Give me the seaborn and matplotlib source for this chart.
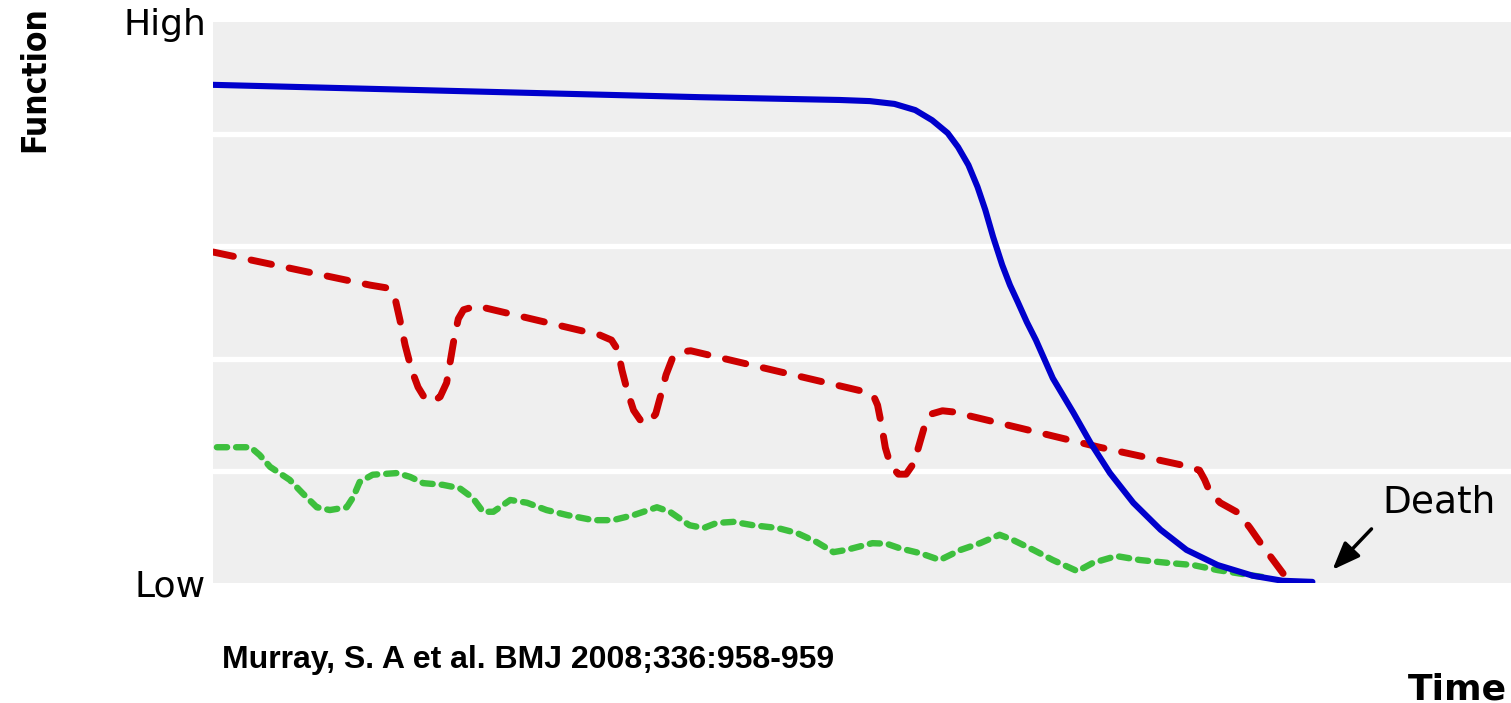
import matplotlib
matplotlib.use("Agg")
import matplotlib.pyplot as plt
import seaborn as sns
import pandas as pd

# ---- data (time 0-100, function 0-100) ----
blue_x = [0, 22.1, 37.5, 48.3, 50.6, 52.5, 54.1, 55.4, 56.6, 57.4, 58.2, 58.9, 59.5,
          60.1, 60.8, 61.4, 62.0, 62.7, 63.4, 64.7, 66.3, 67.6, 69.1, 70.9, 73.0,
          75.0, 77.4, 80.1, 82.4, 84.7]
blue_y = [88.8, 87.5, 86.6, 86.1, 85.9, 85.4, 84.3, 82.5, 80.2, 77.7, 74.5, 70.6, 66.5,
          61.7, 56.7, 53.1, 50.1, 46.5, 43.3, 36.5, 30.3, 25.0, 19.6, 14.3, 9.5,
          5.9, 3.2, 1.3, 0.4, 0.2]

red_x = [0, 12.1, 13.4, 14.0, 14.4, 14.8, 15.3, 15.8, 16.3, 16.9, 17.5, 18.0, 18.3,
         18.6, 18.9, 19.3, 20.3,
         29.8, 30.7, 31.2, 31.5, 31.9, 32.4, 32.9, 33.5, 34.1, 34.5, 34.9, 35.4,
         36.1, 36.8,
         50.2, 50.9, 51.2, 51.5, 51.8, 52.2, 52.8, 53.4, 54.0, 54.4, 54.8, 55.3,
         56.2, 57.0,
         60.6, 68.3, 74.7, 76.0, 76.4, 76.8, 77.6, 79.0, 79.9, 80.8, 81.8, 82.7]
red_y = [59.0, 53.1, 52.6, 51.0, 46.9, 42.4, 38.0, 34.9, 33.0, 32.3, 33.2, 35.7, 39.8,
         43.9, 47.1, 48.7, 49.4,
         44.2, 43.3, 41.5, 38.0, 34.4, 30.8, 29.1, 28.5, 30.1, 33.5, 37.1, 40.1,
         41.2, 41.4,
         34.1, 33.3, 31.7, 28.2, 24.1, 21.0, 19.4, 19.4, 21.4, 24.6, 27.8, 30.1,
         30.7, 30.5,
         28.5, 24.2, 21.0, 20.1, 18.4, 16.2, 14.3, 12.5, 9.8, 6.8, 3.7, 0.9]

green_x = [0.3, 2.9, 3.6, 4.4, 5.9, 6.9, 8.0, 9.0, 10.3, 10.8, 11.3, 12.3, 14.2, 15.2,
           16.2, 17.7, 19.0, 20.0, 20.8, 21.6, 22.9, 24.2, 25.7, 27.3, 29.3, 30.8,
           32.4, 34.2, 35.2, 36.7, 37.8, 38.8, 40.1, 41.6, 43.5, 45.0, 46.5, 47.8,
           48.8, 50.8, 51.9, 52.9, 54.5, 56.0, 57.6, 59.1, 60.6, 61.6, 63.2, 64.7,
           66.6, 67.8, 69.6, 71.4, 73.5, 75.5, 77.4, 79.9, 81.4]
green_y = [24.2, 24.2, 22.8, 20.7, 18.4, 16.0, 13.5, 13.0, 13.5, 15.3, 18.0, 19.3, 19.6,
           18.9, 17.8, 17.5, 16.9, 15.2, 12.7, 12.7, 14.8, 14.3, 13.0, 12.1, 11.2, 11.2,
           12.1, 13.5, 12.7, 10.3, 9.8, 10.7, 10.9, 10.3, 9.8, 8.9, 7.3, 5.5,
           5.9, 7.1, 7.0, 6.2, 5.3, 4.1, 5.9, 7.1, 8.6, 7.7, 5.9, 4.1,
           2.1, 3.6, 4.8, 4.1, 3.6, 3.2, 2.3, 1.4, 0.9]

y_tick_values = [0, 100]
y_tick_labels = ["Low", "High"]
grid_values = [20, 40, 60, 80]

# ---- style ----
sns.set_theme(style="white")
plt.rcParams["font.family"] = ["DejaVu Sans"]
plt.rcParams["text.color"] = "black"

fig = plt.figure(figsize=(15.11, 7.03), dpi=100)
ax = fig.add_axes([213 / 1511, 120 / 703, 1 - 213 / 1511, 561 / 703])
ax.set_facecolor("#efefef")
for s in ax.spines.values():
    s.set_visible(False)

for g in grid_values:
    ax.axhline(g, color="white", lw=3.8, zorder=1)

df_g = pd.DataFrame({"t": green_x, "f": green_y})
df_r = pd.DataFrame({"t": red_x, "f": red_y})
df_b = pd.DataFrame({"t": blue_x, "f": blue_y})

sns.lineplot(data=df_g, x="t", y="f", ax=ax, sort=False, color="#3dbf3d", lw=4.6,
             zorder=3)
ax.lines[-1].set_dashes((1.6, 1.4))
ax.lines[-1].set_dash_capstyle("round")
ax.lines[-1].set_solid_joinstyle("round")
sns.lineplot(data=df_r, x="t", y="f", ax=ax, sort=False, color="#cc0000", lw=5.0,
             zorder=4)
ax.lines[-1].set_dashes((3.0, 2.6))
ax.lines[-1].set_dash_capstyle("round")
sns.lineplot(data=df_b, x="t", y="f", ax=ax, sort=False, color="#0000cc", lw=4.4,
             zorder=5)
ax.lines[-1].set_solid_capstyle("round")
ax.lines[-1].set_solid_joinstyle("round")

ax.set_xlim(0, 100)
ax.set_ylim(0, 100)
ax.set_xticks([])
ax.set_yticks(y_tick_values)
ax.set_yticklabels(y_tick_labels, fontsize=26, color="black")
ax.tick_params(axis="y", length=0, pad=5)
ax.set_xlabel("")
ax.set_ylabel("")

# Death annotation
ax.annotate("", xy=(86.1, 2.0), xytext=(89.4, 10.0),
            arrowprops=dict(arrowstyle="-|>,head_length=1.4,head_width=0.55",
                            color="black", lw=2.5),
            zorder=6, annotation_clip=False)
ax.text(90.1, 14.3, "Death", fontsize=27, ha="left", va="center", color="black")

# axis titles
fig.text(35 / 1511, 1 - 79 / 703, "Function", rotation=90, fontsize=24,
         fontweight="heavy", fontstretch="condensed", ha="center", va="center",
         color="black")
fig.text(1408 / 1511, 1 - 672 / 703, "Time", fontsize=26, fontweight="bold",
         ha="left", va="top", color="black")
fig.text(222 / 1511, 1 - 660 / 703, "Murray, S. A et al. BMJ 2008;336:958-959",
         fontsize=23, fontweight="bold", family=["Liberation Sans", "DejaVu Sans"],
         ha="left", va="center", color="black")

fig.savefig("out.png", dpi=100)
